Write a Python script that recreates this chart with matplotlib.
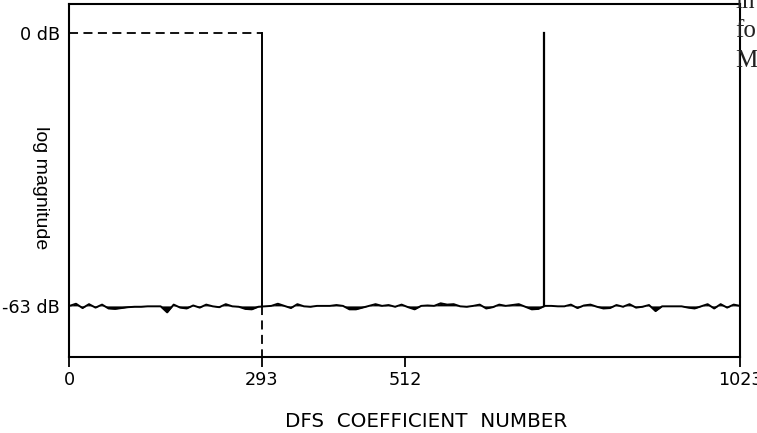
import numpy as np
import matplotlib.pyplot as plt

# DFS coefficient range and marked coefficients
n_coef = 1024
tick_pos = [0, 293, 512, 1023]
tick_labels = ['0', '293', '512', '1023']
cutoff = 293          # end of the 0 dB passband
spike = 724           # single line in the spectrum
floor_db = -63

# noise floor (dB), read off roughly every 10 coefficients
noise = [-63.0, -62.5, -63.5, -62.6, -63.4, -62.7, -63.6, -63.7, -63.5, -63.3,
         -63.2, -63.2, -63.1, -63.1, -63.1, -64.5, -62.7, -63.4, -63.6, -62.9,
         -63.4, -62.7, -63.1, -63.3, -62.6, -63.1, -63.2, -63.7, -63.8, -63.2,
         -63.1, -63.0, -62.5, -63.0, -63.5, -62.6, -63.1, -63.2, -63.0, -63.0,
         -63.0, -62.8, -63.0, -63.8, -63.8, -63.4, -63.0, -62.6, -63.0, -62.8,
         -63.2, -62.7, -63.3, -63.8, -63.0, -62.9, -63.0, -62.4, -62.7, -62.6,
         -63.1, -63.2, -63.0, -62.7, -63.6, -63.3, -62.7, -63.0, -62.8, -62.6,
         -63.2, -63.8, -63.7, -63.0, -63.0, -63.1, -63.1, -62.7, -63.5, -62.9,
         -62.7, -63.2, -63.6, -63.5, -62.8, -63.2, -62.6, -63.4, -63.2, -62.8,
         -64.2, -63.1, -63.1, -63.1, -63.1, -63.4, -63.6, -63.1, -62.6, -63.6,
         -62.6, -63.4, -62.7, -63.0]
x = np.linspace(0, n_coef - 1, len(noise))

fig = plt.figure(figsize=(7.57, 4.33), dpi=100)
ax = fig.add_axes([0.0918, 0.1755, 0.886, 0.8153])
plt.rcParams['font.family'] = ['Liberation Sans', 'DejaVu Sans']

ax.fill_between(x, noise, floor_db, color='black', linewidth=0)
ax.plot(x, noise, color='black', linewidth=1.4)

# passband edge at 293
ax.plot([0, cutoff], [0, 0], color='black', linewidth=1.3, dashes=(5, 3))
ax.plot([cutoff, cutoff], [0, floor_db], color='black', linewidth=1.4)
ax.plot([cutoff, cutoff], [floor_db, -75], color='black', linewidth=1.3, dashes=(5, 3))
# spike
ax.plot([spike, spike], [floor_db, 0], color='black', linewidth=1.6)

ax.set_xlim(0, n_coef - 1)
ax.set_ylim(-74.8, 6.7)
ax.set_xticks(tick_pos)
ax.set_xticklabels(tick_labels, fontsize=12.7)
ax.set_yticks([floor_db, 0])
ax.set_yticklabels(['-63 dB', '0 dB'], fontsize=12.7)
ax.tick_params(axis='x', length=7, width=1.3, pad=3)
ax.tick_params(axis='y', length=0, pad=7)
for s in ax.spines.values():
    s.set_linewidth(1.5)

ax.set_xlabel('DFS  COEFFICIENT  NUMBER', fontsize=14.3)
ax.xaxis.set_label_coords(0.531, -0.155)
ax.xaxis.label.set_va('top')
ax.text(-0.043, 0.48, 'log magnitude', rotation=270, fontsize=14,
        ha='center', va='center', transform=ax.transAxes)

# clipped running text from the page, at the right edge
for txt, yy in [('in', 8), ('fo', 37), ('M', 67)]:
    fig.text(735 / 757, 1 - yy / 433, txt, fontsize=18, family='Liberation Serif',
             ha='left', va='baseline', color='#222222')

fig.savefig('out.png', dpi=100)
